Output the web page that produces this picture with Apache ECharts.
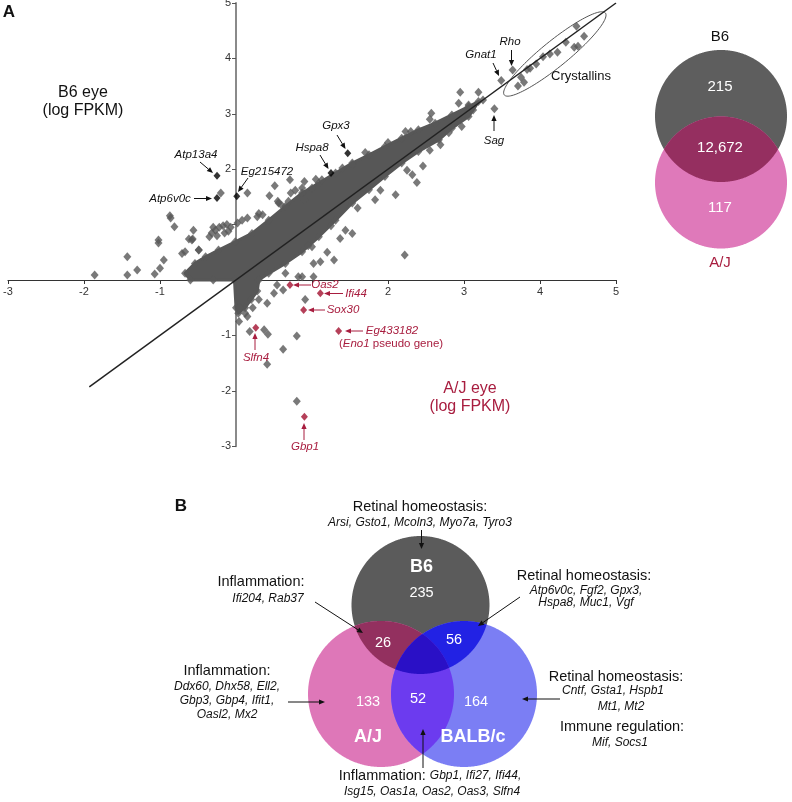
<!DOCTYPE html>
<html>
<head>
<meta charset="utf-8">
<script src="https://cdn.jsdelivr.net/npm/echarts@6/dist/echarts.min.js"></script>
<style>
  html, body { margin: 0; padding: 0; background: #fff; }
  #chart { width: 792px; height: 802px; }
</style>
</head>
<body>
<div id="chart"></div>
<script>
// ---- data (log FPKM, x = A/J eye, y = B6 eye) ----
const axisTicks = [-3, -2, -1, 0, 1, 2, 3, 4, 5];

// outline of the dense cloud of genes
const cloudX = [-0.67, -0.54, -0.40, -0.23, -0.01, 0.21, 0.43, 0.65, 0.87, 1.09, 1.31, 1.53, 1.75, 1.96, 2.18, 2.40, 2.62, 2.84, 3.06, 3.19,
  3.12, 3.06, 2.84, 2.67, 2.40, 2.18, 1.96, 1.75, 1.53, 1.31, 1.09, 0.87, 0.65, 0.43, 0.30, 0.28, 0.20, 0.12, 0.03, 0.00, -0.02, -0.30, -0.60];
const cloudY = [0.12, 0.30, 0.42, 0.54, 0.69, 0.84, 1.08, 1.33, 1.57, 1.75, 1.93, 2.11, 2.26, 2.41, 2.56, 2.71, 2.83, 2.98, 3.13, 3.22,
  3.07, 2.95, 2.74, 2.53, 2.32, 2.11, 1.87, 1.63, 1.39, 1.08, 0.78, 0.51, 0.30, 0.12, 0.00, -0.20, -0.35, -0.50, -0.60, -0.50, 0.00, 0.00, 0.00];

// scattered genes outside the dense cloud
const grayX = [-1.86, -1.43, -1.43, -1.30, -1.07, -1.00, -0.95, -1.02, -1.02, -0.87, -0.86, -0.81, -0.71, -0.56, -0.62, -0.57, -0.49, -0.20,
  -0.32, -0.27, -0.22, -0.17, -0.12, -0.07, -0.25, -0.15, -0.35, -0.30, -0.10, -0.58, -0.67, -0.49,
  0.02, 0.08, 0.15, 0.15, 0.28, 0.44, 0.51, 0.56, 0.71, 0.72, 0.87, 0.90, 0.69, 1.00, 1.13, 0.90, 1.53, 0.30, 0.60,
  1.29, 1.11, 1.02, 1.37, 1.44, 1.53, 1.83, 2.10, 2.22, 2.38, 2.32, 2.46, 2.69, 2.97, 0.65, 0.82, 0.87, 1.02, 1.20, 1.00,
  2.23, 2.57, 2.95, 3.19, 3.25, 2.93, 3.06, 3.40, 3.49, 3.64,
  0.04, 0.15, 0.22, 0.18, 0.37, 0.42, 0.41, 0.62, 0.80, 0.91, 0.80, 0.41, 0.50, 0.62, 0.54, 0.30, 0.12, 0.05,
  3.71, 3.79, 3.75, 3.83, 3.87, 3.95, 4.04, 4.13, 4.23, 4.34, 4.48, 4.58, 4.45, 4.50,
  0.35, 0.55, 0.78, 1.05, 1.40, 1.70, 2.00, 2.30, 2.55, 0.95, 1.25, 1.60, 1.90, 2.25, 2.55, 2.80];
const grayY = [0.09, 0.42, 0.09, 0.18, 0.11, 0.21, 0.36, 0.67, 0.72, 1.16, 1.12, 0.96, 0.48, 0.90, 0.74, 0.74, 0.54, 1.57,
  0.85, 0.90, 0.95, 0.98, 1.00, 0.95, 0.80, 0.85, 0.78, 0.95, 0.88, 0.72, 0.51, 0.54,
  1.03, 1.08, 1.12, 1.57, 1.14, 1.52, 1.70, 1.39, 1.81, 1.57, 1.66, 1.45, 1.42, 1.66, 1.81, 1.78, 2.08, 1.20, 1.35,
  0.36, 0.33, 0.30, 0.75, 0.90, 0.84, 1.45, 1.54, 0.45, 1.76, 1.90, 2.06, 2.44, 2.77, 0.12, 0.06, 0.06, 0.06, 0.50, 0.60,
  2.68, 3.01, 3.39, 3.39, 3.25, 3.19, 3.16, 3.09, 3.60, 3.79,
  -0.75, -0.66, -0.50, -0.93, -0.90, -0.98, -1.52, -1.25, -1.01, -0.35, -2.19, -0.42, -0.24, -0.18, -0.09, -0.35, -0.60, -0.50,
  3.50, 3.57, 3.66, 3.80, 3.82, 3.90, 4.03, 4.08, 4.11, 4.29, 4.58, 4.40, 4.20, 4.22,
  1.18, 1.42, 1.62, 1.82, 2.02, 2.30, 2.48, 2.68, 2.90, 0.62, 0.98, 1.30, 1.62, 1.98, 2.34, 2.66];

// genes higher in A/J (red)
const redGenes = ['Oas2', 'Ifi44', 'Sox30', 'Eg433182', 'Slfn4', 'Gbp1'];
const redX = [0.71, 1.11, 0.89, 1.35, 0.26, 0.90];
const redY = [-0.09, -0.24, -0.54, -0.92, -0.86, -2.47];

// genes higher in B6 (black)
const blackGenes = ['Atp13a4', 'Atp6v0c', 'Eg215472', 'Hspa8', 'Gpx3'];
const blackX = [-0.25, -0.25, 0.01, 1.25, 1.47];
const blackY = [1.88, 1.48, 1.51, 1.93, 2.29];

// identity line and crystallin ellipse ends
const identityRange = [-1.93, 5.0];
const crystallinEnds = [[3.53, 3.34], [4.86, 4.82]];

// Venn diagrams
const vennARegions = ['B6', 'A/J', 'B6&A/J'];
const vennACounts = [215, 117, 12672];
const vennBRegions = ['B6', 'A/J', 'BALB/c', 'B6&A/J', 'B6&BALB/c', 'A/J&BALB/c', 'B6&A/J&BALB/c'];
const vennBCounts = [235, 133, 164, 26, 56, 52, null];

// ---- styles / layout ----
const FONT = '"Liberation Sans", Arial, sans-serif';
const GRAY = '#575757';
const CRIMSON = '#a81d3f';
const RED_PT = '#a3102f';

const GRID = { left: 8, top: 3, width: 608, height: 443.2 };
const xMin = axisTicks[0], xMax = axisTicks[axisTicks.length - 1];
const yMin = axisTicks[0], yMax = axisTicks[axisTicks.length - 1];

const vennALayout = {
  circles: { 'B6': [721, 116, 66], 'A/J': [721, 182.5, 66] },
  labels: { 'B6': [720, 87], 'A/J': [720, 208], 'B6&A/J': [720, 148] },
  colors: { 'B6': '#5e5e5e', 'A/J': '#df79ba', 'B6&A/J': '#952f60' },
  fontSize: 15
};
const vennBLayout = {
  circles: { 'B6': [420.5, 605, 69], 'A/J': [381, 694, 73], 'BALB/c': [464, 694, 73] },
  labels: { 'B6': [421.5, 593], 'A/J': [368, 702], 'BALB/c': [476, 702], 'B6&A/J': [383, 643],
    'B6&BALB/c': [454, 640], 'A/J&BALB/c': [418, 699] },
  colors: { 'B6': '#5b5b5b', 'A/J': '#de77b8', 'BALB/c': '#7b7ef4', 'B6&A/J': '#93305f',
    'B6&BALB/c': '#2222e4', 'A/J&BALB/c': '#6c3bef', 'B6&A/J&BALB/c': '#2a10c6' },
  fontSize: 14.5
};

function diskIntersection(cs) {
  const pts = [];
  cs.forEach((c, i) => {
    for (let k = 0; k < 720; k++) {
      const t = k / 720 * Math.PI * 2;
      const p = [c[0] + c[2] * Math.cos(t), c[1] + c[2] * Math.sin(t)];
      if (cs.every((o, j) => j === i || Math.hypot(p[0] - o[0], p[1] - o[1]) <= o[2] + 1e-6)) pts.push(p);
    }
  });
  let mx = 0, my = 0;
  pts.forEach(p => { mx += p[0]; my += p[1]; });
  mx /= pts.length; my /= pts.length;
  pts.sort((a, b) => Math.atan2(a[1] - my, a[0] - mx) - Math.atan2(b[1] - my, b[0] - mx));
  return pts;
}

function vennSeries(regions, counts, layout) {
  return {
    type: 'custom',
    coordinateSystem: 'none',
    silent: true,
    data: regions.map((r, i) => [i]),
    renderItem: (params, api) => {
      const name = regions[params.dataIndex];
      const sets = name.split('&').map(s => layout.circles[s]);
      const children = [{
        type: 'polygon',
        shape: { points: diskIntersection(sets) },
        style: { fill: layout.colors[name] }
      }];
      const count = counts[params.dataIndex];
      if (count != null) {
        const pos = layout.labels[name];
        children.push({
          type: 'text', z2: 100, x: pos[0], y: pos[1],
          style: { text: count.toLocaleString('en-US'), fill: '#fff', fontSize: layout.fontSize, fontFamily: FONT,
            align: 'center', verticalAlign: 'middle' }
        });
      }
      return { type: 'group', children };
    }
  };
}

function txt(x, y, text, opt) {
  opt = opt || {};
  return {
    type: 'text', x, y, z: 100,
    style: Object.assign({ text, fill: '#111', fontSize: 11.5, fontFamily: FONT, fontStyle: 'italic',
      align: 'center', verticalAlign: 'middle' }, opt)
  };
}
function arrow(x1, y1, x2, y2, color) {
  color = color || '#111';
  const a = Math.atan2(y2 - y1, x2 - x1), L = 6, W = 2.6;
  const bx = x2 - L * Math.cos(a), by = y2 - L * Math.sin(a);
  return [
    { type: 'line', z: 100, shape: { x1, y1, x2: bx, y2: by }, style: { stroke: color, lineWidth: 1 } },
    { type: 'polygon', z: 100, shape: { points: [[x2, y2], [bx + W * Math.sin(a), by - W * Math.cos(a)], [bx - W * Math.sin(a), by + W * Math.cos(a)]] },
      style: { fill: color } }
  ];
}

const graphics = [
  txt(9, 12, 'A', { fontStyle: 'normal', fontWeight: 'bold', fontSize: 17 }),
  txt(181, 506, 'B', { fontStyle: 'normal', fontWeight: 'bold', fontSize: 17 }),
  txt(83, 93, 'B6 eye', { fontStyle: 'normal', fontSize: 16 }),
  txt(83, 111, '(log FPKM)', { fontStyle: 'normal', fontSize: 16 }),
  txt(470, 389, 'A/J eye', { fontStyle: 'normal', fontSize: 16, fill: CRIMSON }),
  txt(470, 407, '(log FPKM)', { fontStyle: 'normal', fontSize: 16, fill: CRIMSON }),
  txt(196, 155, 'Atp13a4'), ...arrow(200, 162, 213, 173),
  txt(170, 199, 'Atp6v0c'), ...arrow(194, 198.5, 212, 198.5),
  txt(267, 172, 'Eg215472'), ...arrow(248, 178, 238, 192),
  txt(312, 148, 'Hspa8'), ...arrow(320, 155, 328.5, 169),
  txt(336, 126, 'Gpx3'), ...arrow(337, 135, 345.5, 149),
  txt(481, 55, 'Gnat1'), ...arrow(493, 63, 499, 76),
  txt(510, 42, 'Rho'), ...arrow(511.5, 50, 511.5, 66),
  txt(494, 141, 'Sag'), ...arrow(494, 131, 494, 115),
  txt(581, 76, 'Crystallins', { fontStyle: 'normal', fontSize: 13 }),
  txt(325, 285, 'Oas2', { fill: CRIMSON }), ...arrow(311, 285, 293, 285, CRIMSON),
  txt(356, 294, 'Ifi44', { fill: CRIMSON }), ...arrow(343, 293.5, 324, 293.5, CRIMSON),
  txt(343, 310, 'Sox30', { fill: CRIMSON }), ...arrow(325, 310, 308, 310, CRIMSON),
  txt(392, 331, 'Eg433182', { fill: CRIMSON }), ...arrow(363, 331, 345, 331, CRIMSON),
  txt(391, 344, '{n|(}{i|Eno1}{n| pseudo gene)}', { fill: CRIMSON,
    rich: { n: { fontStyle: 'normal', fill: CRIMSON, fontSize: 11.5, fontFamily: FONT },
            i: { fontStyle: 'italic', fill: CRIMSON, fontSize: 11.5, fontFamily: FONT } } }),
  txt(256, 358, 'Slfn4', { fill: CRIMSON }), ...arrow(255, 350, 255, 333, CRIMSON),
  txt(305, 447, 'Gbp1', { fill: CRIMSON }), ...arrow(304, 440, 304, 423, CRIMSON),
  // venn A set names
  txt(720, 37, 'B6', { fontStyle: 'normal', fontSize: 15 }),
  txt(720, 263, 'A/J', { fontStyle: 'normal', fontSize: 15, fill: CRIMSON }),
  // venn B set names
  txt(421.5, 567, 'B6', { fontStyle: 'normal', fontWeight: 'bold', fontSize: 18, fill: '#fff' }),
  txt(368, 737, 'A/J', { fontStyle: 'normal', fontWeight: 'bold', fontSize: 18, fill: '#fff' }),
  txt(473, 737, 'BALB/c', { fontStyle: 'normal', fontWeight: 'bold', fontSize: 18, fill: '#fff' }),
  // venn B annotations
  txt(420, 507, 'Retinal homeostasis:', { fontStyle: 'normal', fontSize: 14.5 }),
  txt(420, 523, 'Arsi, Gsto1, Mcoln3, Myo7a, Tyro3', { fontSize: 12 }),
  ...arrow(421.5, 530, 421.5, 549),
  txt(261, 582, 'Inflammation:', { fontStyle: 'normal', fontSize: 14.5 }),
  txt(268, 599, 'Ifi204, Rab37', { fontSize: 12 }),
  ...arrow(315, 602, 363, 633),
  txt(584, 576, 'Retinal homeostasis:', { fontStyle: 'normal', fontSize: 14.5 }),
  txt(586, 591, 'Atp6v0c, Fgf2, Gpx3,', { fontSize: 12 }),
  txt(586, 603, 'Hspa8, Muc1, Vgf', { fontSize: 12 }),
  ...arrow(520, 597, 478, 626),
  txt(227, 671, 'Inflammation:', { fontStyle: 'normal', fontSize: 14.5 }),
  txt(227, 687, 'Ddx60, Dhx58, Ell2,', { fontSize: 12 }),
  txt(227, 701, 'Gbp3, Gbp4, Ifit1,', { fontSize: 12 }),
  txt(227, 715, 'Oasl2, Mx2', { fontSize: 12 }),
  ...arrow(288, 702, 325, 702),
  txt(616, 677, 'Retinal homeostasis:', { fontStyle: 'normal', fontSize: 14.5 }),
  txt(613, 691, 'Cntf, Gsta1, Hspb1', { fontSize: 12 }),
  txt(621, 707, 'Mt1, Mt2', { fontSize: 12 }),
  txt(622, 727, 'Immune regulation:', { fontStyle: 'normal', fontSize: 14.5 }),
  txt(620, 743, 'Mif, Socs1', { fontSize: 12 }),
  ...arrow(560, 699, 522, 699),
  txt(430, 776, '{n|Inflammation: }{i|Gbp1, Ifi27, Ifi44,}', {
    rich: { n: { fontStyle: 'normal', fontSize: 14.5, fontFamily: FONT, fill: '#111' },
            i: { fontStyle: 'italic', fontSize: 12, fontFamily: FONT, fill: '#111' } } }),
  txt(432, 792, 'Isg15, Oas1a, Oas2, Oas3, Slfn4', { fontSize: 12 }),
  ...arrow(423, 768, 423, 729)
];

const chart = echarts.init(document.getElementById('chart'), null, { renderer: 'canvas' });

const hideLabel = v => (v === 0 || v === 1) ? '' : String(v);
// the axes cross at the origin: shift them in from the grid edges
const xAxisOffset = -GRID.height * (0 - yMin) / (yMax - yMin);
const yAxisOffset = -GRID.width * (0 - xMin) / (xMax - xMin);

chart.setOption({
  backgroundColor: '#fff',
  animation: false,
  grid: Object.assign({ containLabel: false, outerBoundsMode: 'none' }, GRID),
  xAxis: {
    type: 'value', min: xMin, max: xMax, interval: 1, position: 'bottom', offset: xAxisOffset,
    axisLine: { onZero: false, lineStyle: { color: '#333', width: 1.2 } },
    axisTick: { show: true, length: 4, lineStyle: { color: '#333' } },
    axisLabel: { formatter: hideLabel, color: '#333', fontSize: 11, fontFamily: FONT, margin: 6 },
    splitLine: { show: false }
  },
  yAxis: {
    type: 'value', min: yMin, max: yMax, interval: 1, position: 'left', offset: yAxisOffset,
    axisLine: { onZero: false, lineStyle: { color: '#8a8a8a', width: 2 } },
    axisTick: { show: true, length: 4, lineStyle: { color: '#555' } },
    axisLabel: { formatter: hideLabel, color: '#333', fontSize: 11, fontFamily: FONT, margin: 5 },
    splitLine: { show: false }
  },
  graphic: graphics,
  series: [
    {
      type: 'custom', name: 'cloud', silent: true, z: 2,
      data: [[0, 0]],
      renderItem: (params, api) => ({
        type: 'polygon',
        shape: { points: cloudX.map((x, i) => api.coord([x, cloudY[i]])) },
        style: { fill: GRAY, stroke: GRAY, lineWidth: 3, lineJoin: 'round' }
      })
    },
    {
      type: 'scatter', name: 'edge', silent: true, z: 3, symbol: 'diamond', symbolSize: [8, 9],
      itemStyle: { color: GRAY },
      data: cloudX.map((x, i) => [x, cloudY[i]])
    },
    {
      type: 'scatter', name: 'genes', silent: true, z: 3, symbol: 'diamond', symbolSize: [8, 9],
      itemStyle: { color: GRAY },
      data: grayX.map((x, i) => [x, grayY[i]])
    },
    {
      type: 'line', name: 'identity', silent: true, z: 4, symbol: 'none',
      lineStyle: { color: '#222', width: 1.5 },
      data: identityRange.map(v => [v, v])
    },
    {
      type: 'custom', name: 'crystallins', silent: true, z: 4,
      data: [[0, 0]],
      renderItem: (params, api) => {
        const p1 = api.coord(crystallinEnds[0]), p2 = api.coord(crystallinEnds[1]);
        const cx = (p1[0] + p2[0]) / 2, cy = (p1[1] + p2[1]) / 2;
        const rx = Math.hypot(p2[0] - p1[0], p2[1] - p1[1]) / 2, ry = 13;
        const ang = Math.atan2(p2[1] - p1[1], p2[0] - p1[0]);
        const pts = [];
        for (let k = 0; k <= 120; k++) {
          const t = k / 120 * Math.PI * 2;
          const ex = rx * Math.cos(t), ey = ry * Math.sin(t);
          pts.push([cx + ex * Math.cos(ang) - ey * Math.sin(ang), cy + ex * Math.sin(ang) + ey * Math.cos(ang)]);
        }
        return { type: 'polyline', shape: { points: pts }, style: { stroke: '#555', lineWidth: 1, fill: 'none' } };
      }
    },
    {
      type: 'scatter', name: 'B6 high', silent: true, z: 5, symbol: 'diamond', symbolSize: [7, 8],
      itemStyle: { color: '#000' },
      data: blackX.map((x, i) => [x, blackY[i], blackGenes[i]])
    },
    {
      type: 'scatter', name: 'A/J high', silent: true, z: 5, symbol: 'diamond', symbolSize: [7, 8],
      itemStyle: { color: RED_PT },
      data: redX.map((x, i) => [x, redY[i], redGenes[i]])
    },
    vennSeries(vennARegions, vennACounts, vennALayout),
    vennSeries(vennBRegions, vennBCounts, vennBLayout)
  ]
});
</script>
</body>
</html>
